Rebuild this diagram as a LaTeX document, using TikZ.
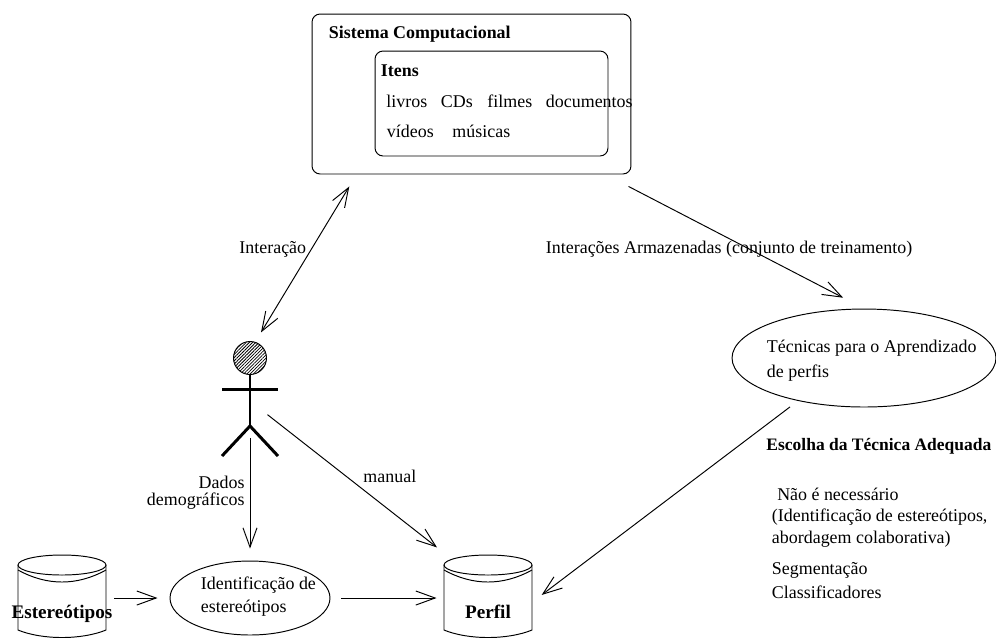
\documentclass[tikz,border=0pt]{standalone}
\usepackage{fontspec}
\setmainfont{Liberation Serif}
\usetikzlibrary{shapes.geometric, arrows.meta, positioning, patterns.meta}

\begin{document}
\begin{tikzpicture}[
    x=0.02cm,
    y=-0.02cm,
    line width=0.55pt,
    >={Straight Barb[length=11pt,width=8pt]},
    box/.style={draw, rounded corners=0.16cm, inner sep=0},
    blob/.style={draw, ellipse, inner sep=0},
    holder/.style={inner sep=0, minimum width=1.76cm, minimum height=1.56cm},
    limb/.style={line width=1.7pt},
    conn/.style={->},
    txt/.style={anchor=base west, inner sep=0, font=\fontsize{10.2}{11}\selectfont},
    boldtxt/.style={anchor=base west, inner sep=0, font=\fontsize{10.2}{11}\selectfont\bfseries},
    dbname/.style={anchor=base, inner sep=0, font=\fontsize{10.9}{11}\selectfont\bfseries},
    dbcyl/.pic={
        \draw (0,-33) ellipse [x radius=44, y radius=10];
        \draw (-44,-28) .. controls (-15,-12) and (15,-12) .. (44,-28);
        \draw (-44,-33) -- (-44,32) .. controls (-20,42) and (20,42) .. (44,32) -- (44,-33);
    }
]
    \clip (0,0) rectangle (996,637);

    % Computer system
    \node[box, minimum width=6.38cm, minimum height=3.2cm] (sistema) at (471.5,94) {};
    \node[box, minimum width=4.66cm, minimum height=2.1cm] (itens) at (491.5,103.5) {};
    \node[boldtxt] (sistemaname) at (328.5,38) {Sistema Computacional};
    \node[boldtxt] (itensname) at (380.5,76) {Itens};
    \node[txt] (livros) at (386,107) {livros};
    \node[txt] (cds) at (440.5,107) {CDs};
    \node[txt] (filmes) at (487,107) {filmes};
    \node[txt] (documentos) at (545.5,107) {documentos};
    \node[txt] (videos) at (386.5,137) {vídeos};
    \node[txt] (musicas) at (452,137) {músicas};

    % Actor
    \node[holder, minimum width=1.12cm, minimum height=2.3cm] (actor) at (250,398.5) {};
    \draw[pattern={Lines[angle=45,distance=1.3pt,line width=0.45pt]}] (250,358) circle [radius=16.5];
    \draw[limb] (250,375) -- (250,426);
    \draw[limb] (222,389) -- (278,389);
    \draw[limb] (222,456) -- (250,426) -- (278,456);

    % Bottom row
    \node[holder] (estereo) at (62,598) {};
    \pic at (estereo) {dbcyl};
    \node[dbname] (estereoname) at (62,618) {Estereótipos};
    \node[blob, minimum width=3.2cm, minimum height=1.48cm] (identif) at (250,598) {};
    \node[txt, align=left] (identifname) at (200.5,612) {Identificação de\\[2pt]estereótipos};
    \node[holder] (perfil) at (488,598) {};
    \pic at (perfil) {dbcyl};
    \node[dbname] (perfilname) at (488,618) {Perfil};

    % Learning techniques
    \node[blob, minimum width=5.28cm, minimum height=1.96cm] (tecnicas) at (864,358) {};
    \node[txt, align=left] (tecnicasname) at (766.5,377) {Técnicas para o Aprendizado\\[3pt]de perfis};
    \node[boldtxt, font=\fontsize{9.95}{11}\selectfont\bfseries] (escolha) at (766,450) {Escolha da Técnica Adequada};
    \node[txt, align=left] (naonec) at (771.5,543) {\hspace*{3pt}Não é necessário\\[1pt](Identificação de estereótipos,\\[1pt]abordagem colaborativa)};
    \node[txt] (segment) at (771.5,574) {Segmentação};
    \node[txt] (classif) at (771.5,598) {Classificadores};

    % Connections
    \draw[<->, shorten <=0.28cm, shorten >=0.19cm] (sistema.215) -- (actor.84);
    \draw[conn, shorten <=0.52cm, shorten >=0.47cm] (sistema.-31) -- (tecnicas.north);
    \draw[conn, shorten <=0.2cm, shorten >=0.23cm] (tecnicas.213) -- (perfil.-5);
    \draw[conn, shorten <=-0.28cm, shorten >=0.36cm] (actor.-41) -- (perfil.133.5);
    \draw[conn, shorten <=-0.36cm, shorten >=0.24cm] (actor.south) -- (identif.north);
    \draw[conn, shorten <=0.16cm, shorten >=0.24cm] (estereo.east) -- (identif.west);
    \draw[conn, shorten <=0.22cm, shorten >=0.14cm] (identif.east) -- (perfil.west);

    % Connection labels
    \node[txt] (interacao) at (239,253) {Interação};
    \node[txt] (armazenadas) at (545.5,253) {Interações Armazenadas (conjunto de treinamento)};
    \node[txt, align=right, anchor=base east] (dados) at (245,505) {Dados\\[-1.4pt]demográficos};
    \node[txt] (manual) at (363,482) {manual};
\end{tikzpicture}
\end{document}
